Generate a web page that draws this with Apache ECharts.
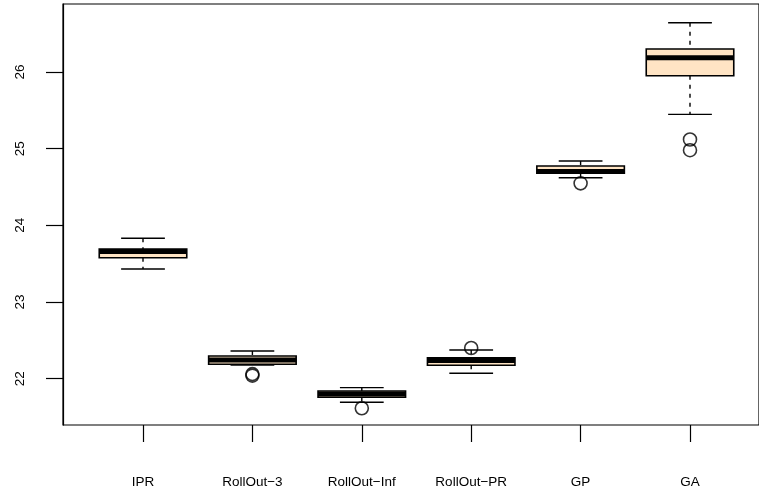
<!DOCTYPE html>
<html>
<head>
<meta charset="utf-8">
<script src="https://cdn.jsdelivr.net/npm/echarts@6/dist/echarts.min.js"></script>
<style>
html,body{margin:0;padding:0;background:#fff;}
#chart{width:759px;height:494px;}
</style>
</head>
<body>
<div id="chart"></div>
<script>
const categories = ['IPR', 'RollOut\u22123', 'RollOut\u2212Inf', 'RollOut\u2212PR', 'GP', 'GA'];
const lowWhisker  = [23.431, 22.179, 21.692, 22.070, 24.621, 25.448];
const lowerQuart  = [23.578, 22.188, 21.757, 22.175, 24.679, 25.952];
const medians     = [23.659, 22.244, 21.800, 22.237, 24.702, 26.186];
const upperQuart  = [23.691, 22.296, 21.840, 22.274, 24.774, 26.300];
const highWhisker = [23.831, 22.361, 21.883, 22.374, 24.839, 26.643];
const outlierCat  = [1, 1, 2, 3, 4, 5, 5];
const outlierVal  = [22.040, 22.060, 21.614, 22.400, 24.548, 25.120, 24.980];
const yTicks = [22, 23, 24, 25, 26];
const yMin = 21.396, yMax = 26.887;

const boxData = categories.map((c, i) => [i, lowWhisker[i], lowerQuart[i], medians[i], upperQuart[i], highWhisker[i]]);
const outlierData = outlierCat.map((c, i) => [c, outlierVal[i]]);

function renderItem(params, api) {
  const i = api.value(0);
  const lo = api.coord([i, api.value(1)]);
  const q1 = api.coord([i, api.value(2)]);
  const md = api.coord([i, api.value(3)]);
  const q3 = api.coord([i, api.value(4)]);
  const hi = api.coord([i, api.value(5)]);
  const bw = api.size([1, 0])[0];
  const x = lo[0];
  const hb = bw * 0.4, hc = bw * 0.2;
  const solid = {stroke: '#000', lineWidth: 1.4};
  const dashed = {stroke: '#000', lineWidth: 1.4, lineDash: [4, 5]};
  return {
    type: 'group',
    children: [
      {type: 'line', shape: {x1: x, y1: hi[1], x2: x, y2: q3[1]}, style: dashed},
      {type: 'line', shape: {x1: x, y1: q1[1], x2: x, y2: lo[1]}, style: dashed},
      {type: 'line', shape: {x1: x - hc, y1: hi[1], x2: x + hc, y2: hi[1]}, style: solid},
      {type: 'line', shape: {x1: x - hc, y1: lo[1], x2: x + hc, y2: lo[1]}, style: solid},
      {type: 'rect', shape: {x: x - hb, y: q3[1], width: 2 * hb, height: q1[1] - q3[1]},
        style: {fill: '#FFE4C4', stroke: '#000', lineWidth: 1.6}},
      {type: 'line', shape: {x1: x - hb, y1: md[1], x2: x + hb, y2: md[1]},
        style: {stroke: '#000', lineWidth: 5}}
    ]
  };
}

const chart = echarts.init(document.getElementById('chart'), null, {renderer: 'canvas'});
const font = 'Liberation Sans, Arial, sans-serif';
chart.setOption({
  animation: false,
  backgroundColor: '#fff',
  grid: [
    {left: 63, top: 4, width: 708, height: 421, show: true, borderColor: '#000', borderWidth: 1.2, backgroundColor: 'transparent'},
    {left: 88.3, top: 4, width: 656.4, height: 421, show: false}
  ],
  xAxis: [
    {type: 'value', gridIndex: 0, min: 0, max: 1, show: false},
    {type: 'category', gridIndex: 1, data: categories,
      axisLine: {show: false},
      axisTick: {show: true, alignWithLabel: true, length: 17, lineStyle: {color: '#000', width: 1.2}},
      axisLabel: {margin: 50, fontSize: 13.5, color: '#000', fontFamily: font, interval: 0},
      splitLine: {show: false}}
  ],
  yAxis: [
    {type: 'value', gridIndex: 0, min: yMin, max: yMax,
      axisLine: {show: true, lineStyle: {color: '#000', width: 1.2}},
      axisTick: {show: true, length: 17, customValues: yTicks, lineStyle: {color: '#000', width: 1.2}},
      axisLabel: {rotate: 90, margin: 36, fontSize: 13.5, color: '#000', fontFamily: font, customValues: yTicks},
      splitLine: {show: false}},
    {type: 'value', gridIndex: 1, min: yMin, max: yMax, show: false, splitLine: {show: false}}
  ],
  series: [
    {type: 'custom', xAxisIndex: 1, yAxisIndex: 1, renderItem: renderItem, data: boxData,
      encode: {x: 0, y: [1, 2, 3, 4, 5]}, z: 2},
    {type: 'scatter', xAxisIndex: 1, yAxisIndex: 1, data: outlierData, symbol: 'circle', symbolSize: 13,
      itemStyle: {color: 'rgba(0,0,0,0)', borderColor: '#000', borderWidth: 1.6}, z: 3}
  ]
});
</script>
</body>
</html>
